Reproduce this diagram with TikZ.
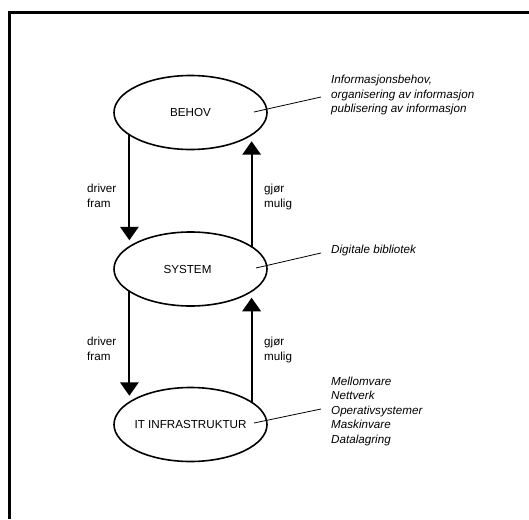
\documentclass[tikz,border=0pt]{standalone}
\usepackage{fontspec}
\setmainfont{Liberation Sans}
\usetikzlibrary{arrows.meta,shapes.geometric}
\begin{document}
\begin{tikzpicture}[x=1pt,y=-1pt,
  every node/.style={font=\fontsize{11.65}{14.5}\selectfont},
  layer/.style={draw, ellipse, line width=1.6pt, minimum width=153pt,
    minimum height=74pt, inner sep=0pt, outer sep=0pt},
  flow/.style={line width=1.8pt, shorten >=6.5pt,
    -{Triangle[width=18.5pt,length=13.5pt]}},
  note/.style={anchor=north west, align=left, inner sep=0pt, font=\fontsize{11.65}{14.5}\selectfont\itshape},
  tag/.style={anchor=north west, align=left, inner sep=0pt},
  callout/.style={line width=0.8pt}]
  \useasboundingbox (0,0) rectangle (529,519);

  % open frame: left and top edges
  \draw[line width=2.7pt] (9.5,519) -- (9.5,12.2) -- (529,12.2);

  % the three layers
  \node[layer, label={center:BEHOV}] (beh) at (190.5,112.5) {};
  \node[layer, label={[xshift=-3pt]center:SYSTEM}] (sys) at (190.5,269) {};
  \node[layer, label={center:IT INFRASTRUKTUR}] (it) at (190.5,424.5) {};

  % downward "driver fram" arrows
  \draw[flow] (beh.200) -- (sys.160);
  \draw[flow] (sys.200) -- (it.160);
  % upward "gjør mulig" arrows
  \draw[flow] (sys.20) -- (beh.-20);
  \draw[flow] (it.20) -- (sys.-20);

  \node[tag] (d1) at (87,184) {driver\\fram};
  \node[tag] (g1) at (264,184) {gjør\\mulig};
  \node[tag] (d2) at (87,337) {driver\\fram};
  \node[tag] (g2) at (264,337) {gjør\\mulig};

  % descriptions with callout lines
  \node[note] (n1) at (331,75) {Informasjonsbehov,\\organisering av informasjon\\publisering av informasjon};
  \node[note] (n2) at (331,245) {Digitale bibliotek};
  \node[note] (n3) at (331,376.7) {Mellomvare\\Nettverk\\Operativsystemer\\Maskinvare\\Datalagring};

  \coordinate (p1) at (254,112);
  \coordinate (q1) at (321,97);
  \coordinate (p2) at (256,268);
  \coordinate (q2) at (321,253);
  \coordinate (p3) at (254,423);
  \coordinate (q3) at (321,409);
  \draw[callout] (p1) -- (q1);
  \draw[callout] (p2) -- (q2);
  \draw[callout] (p3) -- (q3);
\end{tikzpicture}
\end{document}
